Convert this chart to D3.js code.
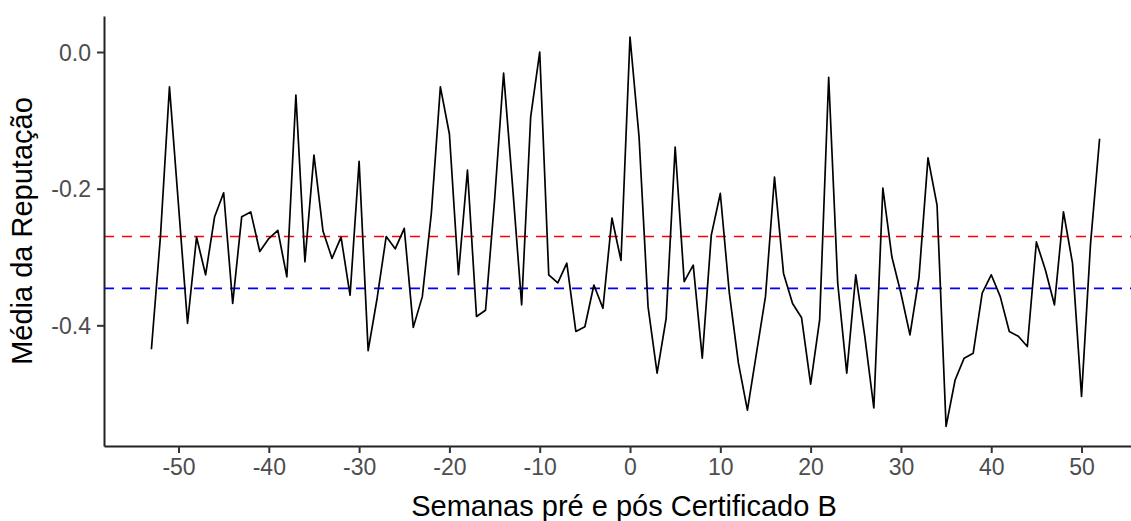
<!DOCTYPE html>
<html>
<head>
<meta charset="utf-8">
<script src="https://cdn.jsdelivr.net/npm/d3@7"></script>
<style>
  html, body { margin: 0; padding: 0; background: #fff; overflow: hidden; }
  svg { display: block; font-family: "Liberation Sans", Arial, sans-serif; }
</style>
</head>
<body>
<div id="chart"></div>
<script>
// weeks relative to certificate B
const weeks = [
  -53,-52,-51,-50,-49,-48,-47,-46,-45,-44,-43,-42,-41,-40,-39,-38,-37,-36,-35,-34,
  -33,-32,-31,-30,-29,-28,-27,-26,-25,-24,-23,-22,-21,-20,-19,-18,-17,-16,-15,-14,
  -13,-12,-11,-10,-9,-8,-7,-6,-5,-4,-3,-2,-1,
  0,1,2,3,4,5,6,7,8,9,10,11,12,13,14,15,16,17,18,19,20,
  21,22,23,24,25,26,27,28,29,30,31,32,33,34,35,36,37,38,39,40,
  41,42,43,44,45,46,47,48,49,50,51,52
];
// mean reputation per week
const reputation = [
  -0.435,-0.270,-0.051,-0.224,-0.397,-0.271,-0.326,-0.241,-0.206,-0.368,
  -0.241,-0.234,-0.292,-0.273,-0.261,-0.329,-0.063,-0.307,-0.151,-0.262,
  -0.302,-0.271,-0.356,-0.160,-0.437,-0.360,-0.270,-0.288,-0.258,-0.403,
  -0.358,-0.236,-0.051,-0.120,-0.326,-0.173,-0.387,-0.378,-0.217,-0.031,
  -0.197,-0.370,-0.095,0.000,-0.326,-0.338,-0.309,-0.409,-0.402,-0.341,
  -0.375,-0.243,-0.305,
  0.022,-0.124,-0.373,-0.470,-0.390,-0.139,-0.336,-0.312,-0.448,-0.268,
  -0.207,-0.353,-0.455,-0.524,-0.441,-0.358,-0.183,-0.324,-0.368,-0.389,
  -0.486,-0.392,-0.037,-0.338,-0.470,-0.326,-0.416,-0.521,-0.199,-0.300,
  -0.353,-0.414,-0.330,-0.155,-0.224,-0.548,-0.480,-0.448,-0.441,-0.353,
  -0.326,-0.358,-0.409,-0.416,-0.431,-0.278,-0.319,-0.370,-0.234,-0.309,
  -0.504,-0.280,-0.127
];
// reference lines
const refRed = -0.270;
const refBlue = -0.346;
const xTicks = [-50,-40,-30,-20,-10,0,10,20,30,40,50];
const yTicks = [0.0,-0.2,-0.4];

const W = 1131, H = 521;
const padLeft = 104, padTop = 16, padBottom = 446, padRight = 1147;

const svg = d3.select("#chart").append("svg").attr("width", W).attr("height", H);

const x = d3.scaleLinear().domain([-58.25, 57.25]).range([padLeft, padRight]);
const y = d3.scaleLinear().domain([-0.5766, 0.0527]).range([padBottom, padTop]);

const data = weeks.map((w, i) => ({ w, v: reputation[i] }));

// reference lines
[[refRed, "#FF0000"], [refBlue, "#0000FF"]].forEach(([v, c]) => {
  svg.append("line")
    .attr("x1", padLeft).attr("x2", padRight)
    .attr("y1", y(v)).attr("y2", y(v))
    .attr("stroke", c).attr("stroke-width", 1.7)
    .attr("stroke-dasharray", "10,8");
});

// series line
svg.append("path")
  .datum(data)
  .attr("fill", "none")
  .attr("stroke", "#000")
  .attr("stroke-width", 1.7)
  .attr("stroke-linejoin", "round")
  .attr("d", d3.line().x(d => x(d.w)).y(d => y(d.v)));

// axes (plain hyphen minus like R)
const xAxis = svg.append("g")
  .attr("transform", `translate(0,${padBottom})`)
  .call(d3.axisBottom(x).tickValues(xTicks).tickFormat(d => String(d)).tickSize(7).tickSizeOuter(0).tickPadding(6));
const yAxis = svg.append("g")
  .attr("transform", `translate(${padLeft},0)`)
  .call(d3.axisLeft(y).tickValues(yTicks).tickFormat(d => d.toFixed(1)).tickSize(7).tickSizeOuter(0).tickPadding(6));

[xAxis, yAxis].forEach(g => {
  g.select(".domain").attr("stroke", "#222").attr("stroke-width", 2);
  g.selectAll(".tick line").attr("stroke", "#333").attr("stroke-width", 2);
  g.selectAll(".tick text")
    .attr("fill", "#4D4D4D")
    .style("font-size", "23px")
    .style("font-family", "'Liberation Sans', Arial, sans-serif");
});
yAxis.selectAll(".tick text").attr("dy", "0.36em");

// axis titles
svg.append("text")
  .attr("x", 624).attr("y", 516)
  .attr("text-anchor", "middle")
  .attr("fill", "#000")
  .style("font-size", "29px")
  .text("Semanas pré e pós Certificado B");

svg.append("text")
  .attr("transform", `translate(32,${(padTop + padBottom) / 2}) rotate(-90)`)
  .attr("text-anchor", "middle")
  .attr("fill", "#000")
  .style("font-size", "29px")
  .text("Média da Reputação");
</script>
</body>
</html>
